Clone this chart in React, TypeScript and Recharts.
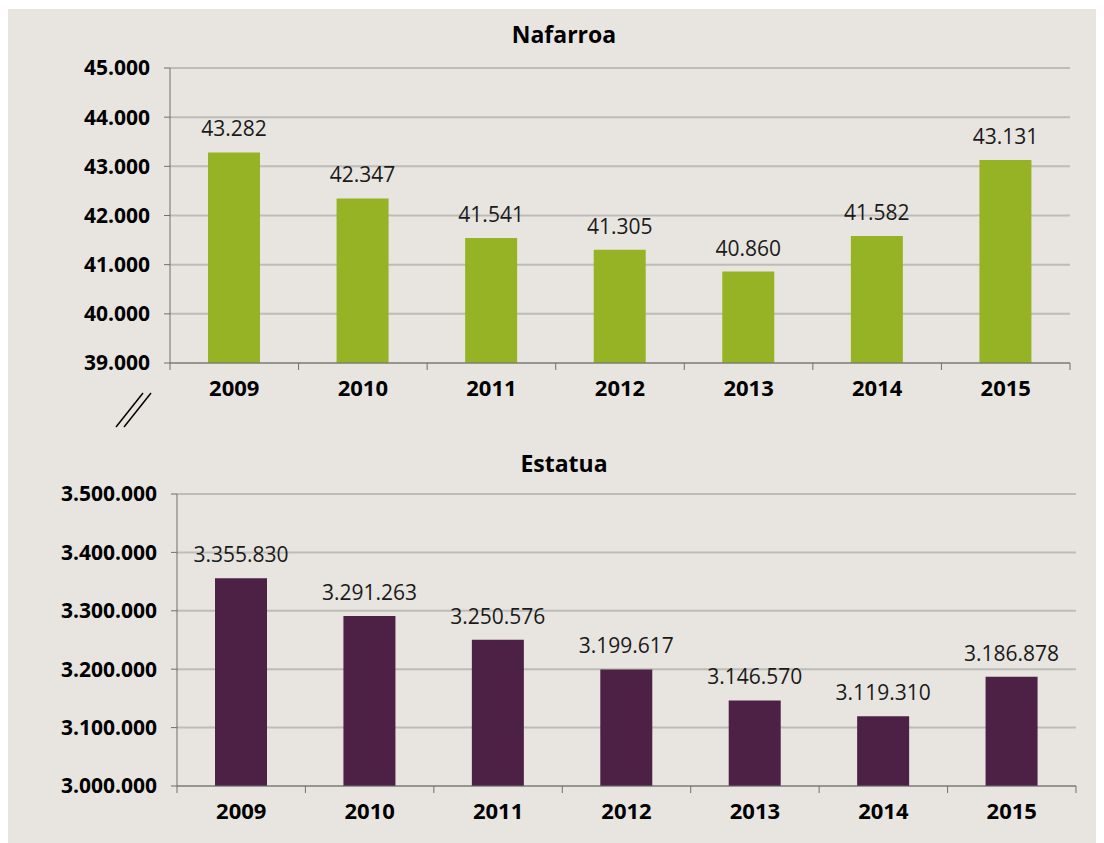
import React from 'react';
import { BarChart, Bar, XAxis, YAxis, CartesianGrid, LabelList } from 'recharts';

const years = ['2009', '2010', '2011', '2012', '2013', '2014', '2015'];
const nafarroaValues = [43282, 42347, 41541, 41305, 40860, 41582, 43131];
const estatuaValues = [3355830, 3291263, 3250576, 3199617, 3146570, 3119310, 3186878];
const nafarroaTicks = [39000, 40000, 41000, 42000, 43000, 44000, 45000];
const estatuaTicks = [3000000, 3100000, 3200000, 3300000, 3400000, 3500000];

const FONT = '"Open Sans", "DejaVu Sans", sans-serif';
const BG = '#e8e5e0';
const AXIS = '#6f6f6f';
const GRID = '#bdbcb9';

const fmt = (v: number) => String(Math.round(v)).replace(/\B(?=(\d{3})+(?!\d))/g, '.');

const nafarroaData = years.map((y, i) => ({ year: y, value: nafarroaValues[i] }));
const estatuaData = years.map((y, i) => ({ year: y, value: estatuaValues[i] }));

// x-axis tick: label at the centre, tick mark at the category boundaries
const makeXTick = (band: number) => (props: any) => {
  const { x, y, payload, index } = props;
  const isLast = index === years.length - 1;
  return (
    <g>
      <line x1={x - band / 2} y1={y - 8} x2={x - band / 2} y2={y - 1} stroke={AXIS} strokeWidth={1} />
      {isLast && <line x1={x + band / 2} y1={y - 8} x2={x + band / 2} y2={y - 1} stroke={AXIS} strokeWidth={1} />}
      <text x={x} y={y + 25} textAnchor="middle" fontFamily={FONT} fontWeight={700} fontSize={22} fill="#000">
        {payload.value}
      </text>
    </g>
  );
};

interface PanelProps {
  title: string;
  data: { year: string; value: number }[];
  ticks: number[];
  color: string;
  height: number;
  margin: { top: number; right: number; bottom: number; left: number };
  yWidth: number;
  titleTop: number;
}

function Panel({ title, data, ticks, color, height, margin, yWidth, titleTop }: PanelProps) {
  const width = 1096;
  const band = (width - margin.left - margin.right - yWidth) / data.length;
  return (
    <div style={{ position: 'relative', width, height }}>
      <div
        style={{
          position: 'absolute',
          top: titleTop,
          left: 8,
          width: 1096,
          textAlign: 'center',
          fontFamily: FONT,
          fontWeight: 700,
          fontSize: 23,
          color: '#000',
          lineHeight: '26px',
        }}
      >
        {title}
      </div>
      <BarChart width={width} height={height} data={data} margin={margin} barCategoryGap="30%">
        <CartesianGrid vertical={false} stroke={GRID} strokeWidth={2} />
        <XAxis
          dataKey="year"
          axisLine={{ stroke: AXIS, strokeWidth: 1 }}
          tickLine={false}
          tick={makeXTick(band)}
          interval={0}
          height={40}
        />
        <YAxis
          domain={[ticks[0], ticks[ticks.length - 1]]}
          ticks={ticks}
          interval={0}
          width={yWidth}
          axisLine={{ stroke: AXIS, strokeWidth: 1 }}
          tickLine={{ stroke: AXIS, strokeWidth: 1 }}
          tickSize={6}
          tickMargin={14}
          tickFormatter={fmt}
          tick={{ fontFamily: FONT, fontWeight: 700, fontSize: 21, fill: '#000' }}
        />
        <Bar dataKey="value" fill={color} barSize={52} isAnimationActive={false}>
          <LabelList
            dataKey="value"
            position="top"
            offset={16}
            formatter={(v: any) => fmt(Number(v))}
            style={{ fontFamily: FONT, fontWeight: 400, fontSize: 21, fill: '#1a1a1a' }}
          />
        </Bar>
      </BarChart>
    </div>
  );
}

export default function App() {
  return (
    <div style={{ position: 'relative', width: 1096, height: 835, marginTop: 1, background: BG }}>
      <Panel
        title="Nafarroa"
        data={nafarroaData}
        ticks={nafarroaTicks}
        color="#95b324"
        height={420}
        margin={{ top: 59, right: 34, bottom: 26, left: 82 }}
        yWidth={80}
        titleTop={12}
      />
      {/* axis break mark */}
      <svg style={{ position: 'absolute', left: 104, top: 381 }} width={50} height={40}>
        <line x1={4} y1={37} x2={31} y2={3} stroke="#000" strokeWidth={1.5} />
        <line x1={12} y1={37} x2={39} y2={3} stroke="#000" strokeWidth={1.5} />
      </svg>
      <Panel
        title="Estatua"
        data={estatuaData}
        ticks={estatuaTicks}
        color="#4d2046"
        height={415}
        margin={{ top: 65, right: 28, bottom: 18, left: 69 }}
        yWidth={100}
        titleTop={21}
      />
    </div>
  );
}
